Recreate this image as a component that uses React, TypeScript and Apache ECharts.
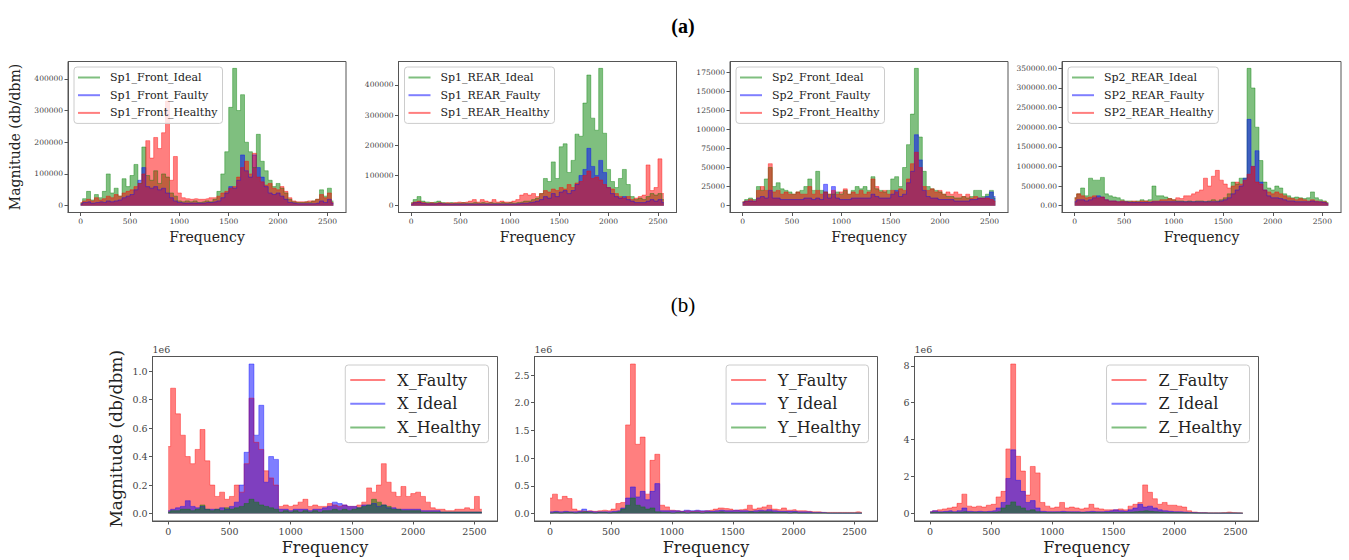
import React, { useEffect, useRef } from "react";
import * as echarts from "echarts";

// Frequency grid (Hz)
const FREQ = [0, 40, 80, 120, 160, 200, 240, 280, 320, 360, 400, 440, 480, 520, 560, 600, 640, 680, 720, 760, 800, 840, 880, 920, 960, 1000, 1040, 1080, 1120, 1160, 1200, 1240, 1280, 1320, 1360, 1400, 1440, 1480, 1520, 1560, 1600, 1640, 1680, 1720, 1760, 1800, 1840, 1880, 1920, 1960, 2000, 2040, 2080, 2120, 2160, 2200, 2240, 2280, 2320, 2360, 2400, 2440, 2480, 2520, 2560];

// (a) panels — magnitudes in thousands
const sp1FrontIdeal = [8, 22, 45, 18, 35, 25, 45, 100, 40, 55, 30, 85, 60, 95, 130, 70, 185, 95, 80, 110, 70, 100, 90, 40, 30, 15, 12, 15, 12, 15, 10, 12, 15, 12, 20, 45, 100, 170, 310, 433, 300, 350, 200, 170, 120, 225, 140, 110, 80, 60, 70, 55, 40, 20, 12, 10, 10, 12, 10, 15, 20, 50, 30, 55, 15];
const sp1FrontFaulty = [5, 10, 12, 8, 10, 12, 10, 15, 12, 15, 18, 25, 30, 35, 50, 80, 120, 60, 55, 60, 50, 55, 40, 25, 15, 10, 8, 8, 8, 8, 8, 8, 10, 10, 12, 15, 25, 40, 60, 55, 80, 160, 110, 90, 160, 120, 90, 60, 40, 35, 40, 30, 20, 10, 8, 6, 6, 6, 6, 6, 8, 15, 10, 20, 8];
const sp1FrontHealthy = [10, 15, 20, 15, 25, 18, 22, 30, 25, 35, 30, 40, 45, 50, 60, 70, 100, 205, 150, 215, 180, 230, 330, 80, 155, 40, 25, 22, 20, 22, 20, 20, 22, 25, 25, 30, 40, 45, 55, 60, 90, 120, 140, 100, 165, 90, 75, 65, 70, 55, 50, 60, 45, 25, 15, 12, 12, 12, 15, 15, 20, 35, 25, 40, 10];

const sp1RearIdeal = [10, 20, 30, 15, 12, 10, 12, 15, 10, 8, 10, 8, 8, 10, 8, 8, 10, 8, 10, 8, 10, 8, 8, 10, 8, 10, 8, 10, 12, 15, 15, 20, 25, 40, 90, 80, 145, 90, 195, 205, 110, 150, 237, 230, 340, 433, 290, 250, 455, 240, 120, 80, 60, 90, 120, 70, 30, 20, 25, 20, 30, 40, 35, 40, 20];
const sp1RearFaulty = [5, 10, 12, 8, 6, 6, 6, 8, 6, 5, 5, 5, 5, 5, 5, 5, 5, 5, 5, 5, 5, 5, 5, 5, 5, 5, 5, 6, 8, 8, 10, 12, 15, 20, 30, 25, 40, 30, 45, 50, 40, 50, 70, 100, 120, 190, 130, 100, 150, 110, 60, 40, 30, 25, 30, 20, 15, 10, 10, 10, 15, 20, 15, 20, 10];
const sp1RearHealthy = [8, 12, 15, 10, 8, 10, 8, 10, 8, 10, 8, 10, 12, 10, 12, 15, 20, 12, 20, 15, 12, 20, 12, 15, 12, 12, 15, 20, 35, 40, 35, 40, 30, 40, 50, 45, 55, 50, 60, 55, 70, 60, 75, 80, 100, 115, 90, 95, 85, 70, 60, 55, 40, 30, 25, 30, 20, 25, 30, 35, 135, 50, 60, 155, 40];

const sp2FrontIdeal = [5, 8, 10, 8, 25, 20, 35, 50, 25, 30, 22, 20, 18, 15, 18, 20, 25, 35, 20, 45, 20, 18, 15, 15, 18, 15, 20, 15, 20, 25, 22, 25, 20, 38, 22, 20, 18, 20, 35, 38, 25, 50, 80, 120, 180, 90, 45, 25, 22, 20, 18, 15, 12, 12, 10, 10, 12, 10, 12, 20, 20, 12, 15, 20, 10];
const sp2FrontFaulty = [4, 6, 6, 6, 10, 12, 10, 20, 10, 10, 8, 8, 8, 8, 8, 8, 10, 10, 8, 10, 8, 28, 10, 25, 10, 8, 8, 8, 10, 10, 10, 10, 10, 15, 12, 10, 10, 10, 15, 20, 12, 15, 30, 45, 93, 60, 20, 12, 10, 10, 8, 8, 8, 8, 6, 6, 6, 6, 8, 8, 10, 10, 12, 18, 12];
const sp2FrontHealthy = [5, 6, 8, 6, 20, 25, 20, 55, 18, 20, 15, 18, 15, 15, 18, 15, 15, 25, 15, 20, 15, 18, 15, 20, 15, 18, 22, 15, 18, 15, 20, 15, 18, 35, 25, 18, 20, 15, 20, 18, 22, 20, 35, 55, 70, 50, 25, 20, 22, 18, 20, 15, 18, 15, 18, 15, 12, 15, 10, 12, 10, 10, 10, 8, 6];

const sp2RearIdeal = [20, 30, 45, 25, 70, 65, 65, 72, 30, 25, 22, 20, 15, 12, 12, 10, 12, 15, 12, 15, 50, 25, 25, 22, 18, 15, 12, 12, 10, 12, 10, 12, 12, 10, 12, 15, 12, 15, 20, 30, 60, 55, 70, 70, 350, 300, 200, 115, 60, 45, 40, 50, 45, 30, 25, 20, 22, 20, 18, 20, 35, 20, 15, 12, 8];
const sp2RearFaulty = [10, 15, 15, 12, 15, 20, 25, 22, 15, 12, 12, 10, 10, 10, 8, 8, 8, 8, 8, 8, 10, 10, 10, 10, 10, 10, 10, 10, 10, 10, 10, 10, 10, 10, 10, 10, 10, 12, 15, 20, 30, 40, 50, 70, 220, 100, 140, 60, 40, 25, 20, 20, 18, 15, 12, 12, 10, 10, 10, 10, 12, 10, 10, 8, 5];
const sp2RearHealthy = [20, 30, 25, 20, 22, 25, 20, 22, 15, 12, 12, 10, 12, 10, 10, 12, 10, 12, 12, 10, 12, 12, 15, 15, 18, 15, 20, 18, 25, 25, 30, 35, 40, 70, 50, 75, 90, 65, 55, 45, 50, 60, 55, 65, 80, 100, 60, 55, 40, 35, 30, 35, 30, 25, 20, 18, 15, 18, 15, 12, 15, 12, 10, 10, 6];

// (b) panels — magnitudes in millions (1e6)
const xFaulty = [0.47, 0.88, 0.70, 0.55, 0.40, 0.35, 0.45, 0.59, 0.37, 0.20, 0.12, 0.15, 0.10, 0.12, 0.20, 0.15, 0.35, 0.81, 0.50, 0.45, 0.30, 0.25, 0.20, 0.05, 0.06, 0.05, 0.06, 0.08, 0.10, 0.05, 0.06, 0.05, 0.05, 0.07, 0.06, 0.05, 0.06, 0.05, 0.05, 0.06, 0.08, 0.18, 0.15, 0.20, 0.35, 0.22, 0.15, 0.12, 0.19, 0.12, 0.14, 0.15, 0.12, 0.08, 0.04, 0.03, 0.03, 0.02, 0.02, 0.03, 0.03, 0.04, 0.03, 0.12, 0.03];
const xIdeal = [0.02, 0.03, 0.04, 0.05, 0.09, 0.05, 0.04, 0.05, 0.03, 0.03, 0.03, 0.04, 0.03, 0.05, 0.08, 0.20, 0.43, 1.05, 0.55, 0.76, 0.22, 0.40, 0.38, 0.03, 0.03, 0.02, 0.03, 0.03, 0.03, 0.02, 0.03, 0.03, 0.04, 0.05, 0.08, 0.07, 0.06, 0.05, 0.05, 0.04, 0.06, 0.06, 0.07, 0.05, 0.06, 0.04, 0.04, 0.03, 0.03, 0.03, 0.03, 0.03, 0.02, 0.02, 0.02, 0.02, 0.01, 0.01, 0.01, 0.01, 0.01, 0.01, 0.01, 0.01, 0.01];
const xHealthy = [0.01, 0.02, 0.02, 0.03, 0.03, 0.02, 0.03, 0.06, 0.03, 0.02, 0.03, 0.02, 0.04, 0.03, 0.04, 0.05, 0.07, 0.10, 0.08, 0.06, 0.05, 0.04, 0.03, 0.01, 0.02, 0.01, 0.02, 0.01, 0.02, 0.01, 0.02, 0.01, 0.02, 0.02, 0.03, 0.02, 0.03, 0.02, 0.03, 0.04, 0.05, 0.06, 0.10, 0.08, 0.06, 0.05, 0.03, 0.03, 0.02, 0.02, 0.02, 0.02, 0.01, 0.01, 0.01, 0.01, 0.01, 0.01, 0.01, 0.01, 0.01, 0.01, 0.01, 0.01, 0.01];

const yFaulty = [0.28, 0.35, 0.25, 0.31, 0.27, 0.08, 0.05, 0.04, 0.05, 0.04, 0.05, 0.06, 0.05, 0.08, 0.18, 0.20, 1.60, 2.70, 1.25, 1.38, 0.35, 0.96, 1.07, 0.15, 0.12, 0.06, 0.05, 0.04, 0.05, 0.04, 0.05, 0.04, 0.05, 0.06, 0.08, 0.10, 0.09, 0.08, 0.06, 0.07, 0.08, 0.15, 0.08, 0.10, 0.12, 0.15, 0.08, 0.07, 0.10, 0.06, 0.07, 0.05, 0.05, 0.04, 0.03, 0.03, 0.02, 0.02, 0.02, 0.02, 0.02, 0.02, 0.02, 0.03, 0.02];
const yIdeal = [0.03, 0.04, 0.03, 0.04, 0.03, 0.03, 0.04, 0.08, 0.04, 0.03, 0.03, 0.03, 0.03, 0.04, 0.05, 0.10, 0.28, 0.48, 0.30, 0.40, 0.25, 0.40, 0.54, 0.05, 0.05, 0.05, 0.05, 0.04, 0.06, 0.05, 0.06, 0.05, 0.05, 0.04, 0.05, 0.06, 0.05, 0.05, 0.06, 0.05, 0.05, 0.04, 0.05, 0.06, 0.05, 0.07, 0.05, 0.04, 0.04, 0.04, 0.04, 0.03, 0.03, 0.03, 0.02, 0.02, 0.02, 0.01, 0.01, 0.01, 0.01, 0.01, 0.01, 0.01, 0.01];
const yHealthy = [0.01, 0.02, 0.01, 0.02, 0.02, 0.01, 0.02, 0.03, 0.02, 0.01, 0.02, 0.02, 0.01, 0.02, 0.03, 0.08, 0.15, 0.28, 0.15, 0.12, 0.08, 0.10, 0.03, 0.02, 0.02, 0.01, 0.02, 0.02, 0.01, 0.02, 0.02, 0.01, 0.02, 0.02, 0.02, 0.03, 0.02, 0.02, 0.02, 0.02, 0.02, 0.03, 0.02, 0.03, 0.03, 0.03, 0.02, 0.02, 0.02, 0.01, 0.02, 0.01, 0.01, 0.01, 0.01, 0.01, 0.01, 0.01, 0.01, 0.01, 0.01, 0.01, 0.01, 0.01, 0.01];

const zFaulty = [0.10, 0.15, 0.20, 0.25, 0.30, 0.35, 0.55, 1.05, 0.40, 0.35, 0.40, 0.35, 0.45, 0.50, 0.90, 1.20, 3.50, 8.10, 3.10, 2.30, 1.00, 2.55, 2.20, 0.60, 0.40, 0.30, 0.35, 0.60, 0.30, 0.35, 0.30, 0.25, 0.30, 0.50, 0.30, 0.25, 0.20, 0.20, 0.20, 0.25, 0.20, 0.40, 0.50, 0.60, 1.55, 1.15, 0.80, 0.50, 0.60, 0.45, 0.45, 0.40, 0.35, 0.15, 0.08, 0.05, 0.05, 0.04, 0.04, 0.04, 0.05, 0.08, 0.05, 0.04, 0.03];
const zIdeal = [0.10, 0.15, 0.10, 0.12, 0.15, 0.10, 0.15, 0.30, 0.12, 0.10, 0.12, 0.10, 0.12, 0.15, 0.30, 0.60, 1.90, 3.45, 1.80, 1.20, 0.60, 0.70, 0.30, 0.12, 0.10, 0.10, 0.10, 0.12, 0.10, 0.10, 0.10, 0.08, 0.10, 0.12, 0.10, 0.10, 0.12, 0.15, 0.20, 0.15, 0.12, 0.20, 0.30, 0.50, 0.35, 0.40, 0.30, 0.20, 0.15, 0.12, 0.10, 0.10, 0.08, 0.06, 0.05, 0.04, 0.04, 0.03, 0.03, 0.03, 0.03, 0.03, 0.03, 0.03, 0.02];
const zHealthy = [0.05, 0.06, 0.05, 0.06, 0.07, 0.06, 0.07, 0.10, 0.06, 0.07, 0.06, 0.07, 0.06, 0.07, 0.10, 0.30, 0.45, 0.63, 0.40, 0.30, 0.15, 0.20, 0.10, 0.06, 0.05, 0.05, 0.06, 0.05, 0.06, 0.05, 0.05, 0.05, 0.06, 0.05, 0.06, 0.05, 0.05, 0.06, 0.06, 0.05, 0.06, 0.08, 0.10, 0.12, 0.15, 0.12, 0.10, 0.08, 0.06, 0.05, 0.05, 0.05, 0.04, 0.04, 0.03, 0.03, 0.03, 0.03, 0.03, 0.03, 0.03, 0.03, 0.03, 0.03, 0.03];

const X_TICKS = [0, 500, 1000, 1500, 2000, 2500];
const Y_TICKS_SP1 = [0, 100000, 200000, 300000, 400000];
const Y_TICKS_SP2F = [0, 25000, 50000, 75000, 100000, 125000, 150000, 175000];
const Y_TICKS_SP2R = [0, 50000, 100000, 150000, 200000, 250000, 300000, 350000];
const Y_TICKS_X = [0, 200000, 400000, 600000, 800000, 1000000];
const Y_TICKS_Y = [0, 500000, 1000000, 1500000, 2000000, 2500000];
const Y_TICKS_Z = [0, 2000000, 4000000, 6000000, 8000000];

const GREEN = "rgba(0,128,0,0.5)";
const BLUE = "rgba(0,0,255,0.5)";
const RED = "rgba(255,0,0,0.5)";
const FONT = "DejaVu Serif";

type S = { name: string; data: number[]; color: string };
type P = {
  grid: { left: number; top: number; width: number; height: number };
  scale: number;
  series: S[];
  yTicks: number[];
  fmt: (v: number) => string;
  big: boolean;
  yName?: string;
};

const panels: P[] = [
  {
    grid: { left: 68, top: 61.5, width: 278, height: 151 }, scale: 1000, big: false,
    series: [
      { name: "Sp1_Front_Ideal", data: sp1FrontIdeal, color: GREEN },
      { name: "Sp1_Front_Faulty", data: sp1FrontFaulty, color: BLUE },
      { name: "Sp1_Front_Healthy", data: sp1FrontHealthy, color: RED },
    ],
    yTicks: Y_TICKS_SP1, fmt: (v) => String(v), yName: "Magnitude (db/dbm)",
  },
  {
    grid: { left: 398.5, top: 61.5, width: 278, height: 151 }, scale: 1000, big: false,
    series: [
      { name: "Sp1_REAR_Ideal", data: sp1RearIdeal, color: GREEN },
      { name: "Sp1_REAR_Faulty", data: sp1RearFaulty, color: BLUE },
      { name: "Sp1_REAR_Healthy", data: sp1RearHealthy, color: RED },
    ],
    yTicks: Y_TICKS_SP1, fmt: (v) => String(v),
  },
  {
    grid: { left: 730, top: 61.5, width: 278, height: 151 }, scale: 1000, big: false,
    series: [
      { name: "Sp2_Front_Ideal", data: sp2FrontIdeal, color: GREEN },
      { name: "Sp2_Front_Faulty", data: sp2FrontFaulty, color: BLUE },
      { name: "Sp2_Front_Healthy", data: sp2FrontHealthy, color: RED },
    ],
    yTicks: Y_TICKS_SP2F, fmt: (v) => String(v),
  },
  {
    grid: { left: 1062, top: 61.5, width: 279, height: 151 }, scale: 1000, big: false,
    series: [
      { name: "Sp2_REAR_Ideal", data: sp2RearIdeal, color: GREEN },
      { name: "SP2_REAR_Faulty", data: sp2RearFaulty, color: BLUE },
      { name: "SP2_REAR_Healthy", data: sp2RearHealthy, color: RED },
    ],
    yTicks: Y_TICKS_SP2R, fmt: (v) => v.toFixed(2),
  },
  {
    grid: { left: 152.5, top: 356.5, width: 345, height: 164.5 }, scale: 1e6, big: true,
    series: [
      { name: "X_Faulty", data: xFaulty, color: RED },
      { name: "X_Ideal", data: xIdeal, color: BLUE },
      { name: "X_Healthy", data: xHealthy, color: GREEN },
    ],
    yTicks: Y_TICKS_X, fmt: (v) => (v / 1e6).toFixed(1), yName: "Magnitude (db/dbm)",
  },
  {
    grid: { left: 534.5, top: 356.5, width: 343, height: 164.5 }, scale: 1e6, big: true,
    series: [
      { name: "Y_Faulty", data: yFaulty, color: RED },
      { name: "Y_Ideal", data: yIdeal, color: BLUE },
      { name: "Y_Healthy", data: yHealthy, color: GREEN },
    ],
    yTicks: Y_TICKS_Y, fmt: (v) => (v / 1e6).toFixed(1),
  },
  {
    grid: { left: 914.5, top: 356.5, width: 344, height: 164.5 }, scale: 1e6, big: true,
    series: [
      { name: "Z_Faulty", data: zFaulty, color: RED },
      { name: "Z_Ideal", data: zIdeal, color: BLUE },
      { name: "Z_Healthy", data: zHealthy, color: GREEN },
    ],
    yTicks: Y_TICKS_Z, fmt: (v) => (v / 1e6).toFixed(0),
  },
];

function buildOption() {
  const grid: any[] = [];
  const xAxis: any[] = [];
  const yAxis: any[] = [];
  const series: any[] = [];
  const legend: any[] = [];
  const graphic: any[] = [
    { type: "text", x: 683, y: 26, style: { text: "(a)", fontSize: 20, fontWeight: "bold", fontFamily: "Liberation Serif", fill: "#000", align: "center", verticalAlign: "middle", textAlign: "center", textVerticalAlign: "middle" } },
    { type: "text", x: 683, y: 305, style: { text: "(b)", fontSize: 21, fontFamily: "Liberation Serif", fill: "#000", align: "center", verticalAlign: "middle", textAlign: "center", textVerticalAlign: "middle" } },
  ];

  panels.forEach((p, i) => {
    const big = p.big;
    let mx = 0;
    p.series.forEach((s) => s.data.forEach((v) => { if (v * p.scale > mx) mx = v * p.scale; }));
    grid.push({ ...p.grid, show: true, borderColor: "#555", borderWidth: 1, backgroundColor: "transparent" });
    xAxis.push({
      gridIndex: i, type: "value", min: -128, max: 2688,
      axisLine: { show: true, onZero: false, lineStyle: { color: "#555", width: 1 } },
      axisTick: { show: true, length: 3.5, customValues: X_TICKS, lineStyle: { color: "#555" } },
      axisLabel: { customValues: X_TICKS, formatter: (v: number) => String(v), fontSize: big ? 9.5 : 7.5, fontFamily: FONT, color: "#444", margin: 5 },
      splitLine: { show: false },
      name: "Frequency", nameLocation: "middle", nameGap: big ? 18 : 17.5,
      nameTextStyle: { fontSize: big ? 16 : 14, fontFamily: FONT, color: "#222" },
    });
    yAxis.push({
      gridIndex: i, type: "value", min: -0.05 * mx, max: 1.05 * mx,
      axisLine: { show: true, onZero: false, lineStyle: { color: "#555", width: 1 } },
      axisTick: { show: true, length: 3.5, customValues: p.yTicks, lineStyle: { color: "#555" } },
      axisLabel: { customValues: p.yTicks, formatter: p.fmt, fontSize: big ? 9.5 : 7.5, fontFamily: FONT, color: "#444", margin: 5 },
      splitLine: { show: false },
      name: p.yName || "", nameLocation: "middle", nameRotate: 90, nameGap: big ? 28 : 46,
      nameTextStyle: { fontSize: big ? 17 : 14, fontFamily: FONT, color: "#222" },
    });
    p.series.forEach((s) => {
      series.push({
        type: "line", name: s.name, xAxisIndex: i, yAxisIndex: i,
        data: FREQ.map((f, j) => [f, s.data[j] * p.scale]),
        step: "middle",
        showSymbol: false, symbol: "none", silent: true,
        lineStyle: { color: s.color, width: 0.8 },
        itemStyle: { color: s.color },
        areaStyle: { color: s.color, opacity: 1 },
      });
    });
    const common = {
      data: p.series.map((s) => s.name), orient: "vertical", icon: "rect", selectedMode: false,
      backgroundColor: "rgba(255,255,255,0.8)", borderColor: "#ccc", borderWidth: 1, borderRadius: 3,
    };
    if (!big) {
      legend.push({
        ...common, left: p.grid.left + 6, top: 67,
        itemWidth: 22, itemHeight: 2, itemGap: 4.7, padding: [4, 5, 4, 4],
        textStyle: { fontFamily: FONT, fontSize: 11, color: "#222", lineHeight: 13, padding: [0, 0, 0, 5] },
      });
    } else {
      legend.push({
        ...common, right: 1349 - (p.grid.left + p.grid.width) + 9, top: 365,
        itemWidth: 35, itemHeight: 2, itemGap: 5.8, padding: [6, 8, 6, 5],
        textStyle: { fontFamily: FONT, fontSize: 16, color: "#222", lineHeight: 18, padding: [0, 0, 0, 7] },
      });
      graphic.push({ type: "text", x: p.grid.left, y: p.grid.top - 2, style: { text: "1e6", fontSize: 9.5, fontFamily: FONT, fill: "#444", align: "left", verticalAlign: "bottom", textAlign: "left", textVerticalAlign: "bottom" } });
    }
  });

  return { animation: false, backgroundColor: "#fff", grid, xAxis, yAxis, series, legend, graphic };
}

export default function App() {
  const ref = useRef<HTMLDivElement>(null);
  useEffect(() => {
    if (!ref.current) return;
    const chart = echarts.init(ref.current, null, { renderer: "svg" });
    chart.setOption(buildOption() as any);
    return () => chart.dispose();
  }, []);
  return <div ref={ref} style={{ position: "absolute", left: 0, top: 0, width: 1349, height: 560 }} />;
}
